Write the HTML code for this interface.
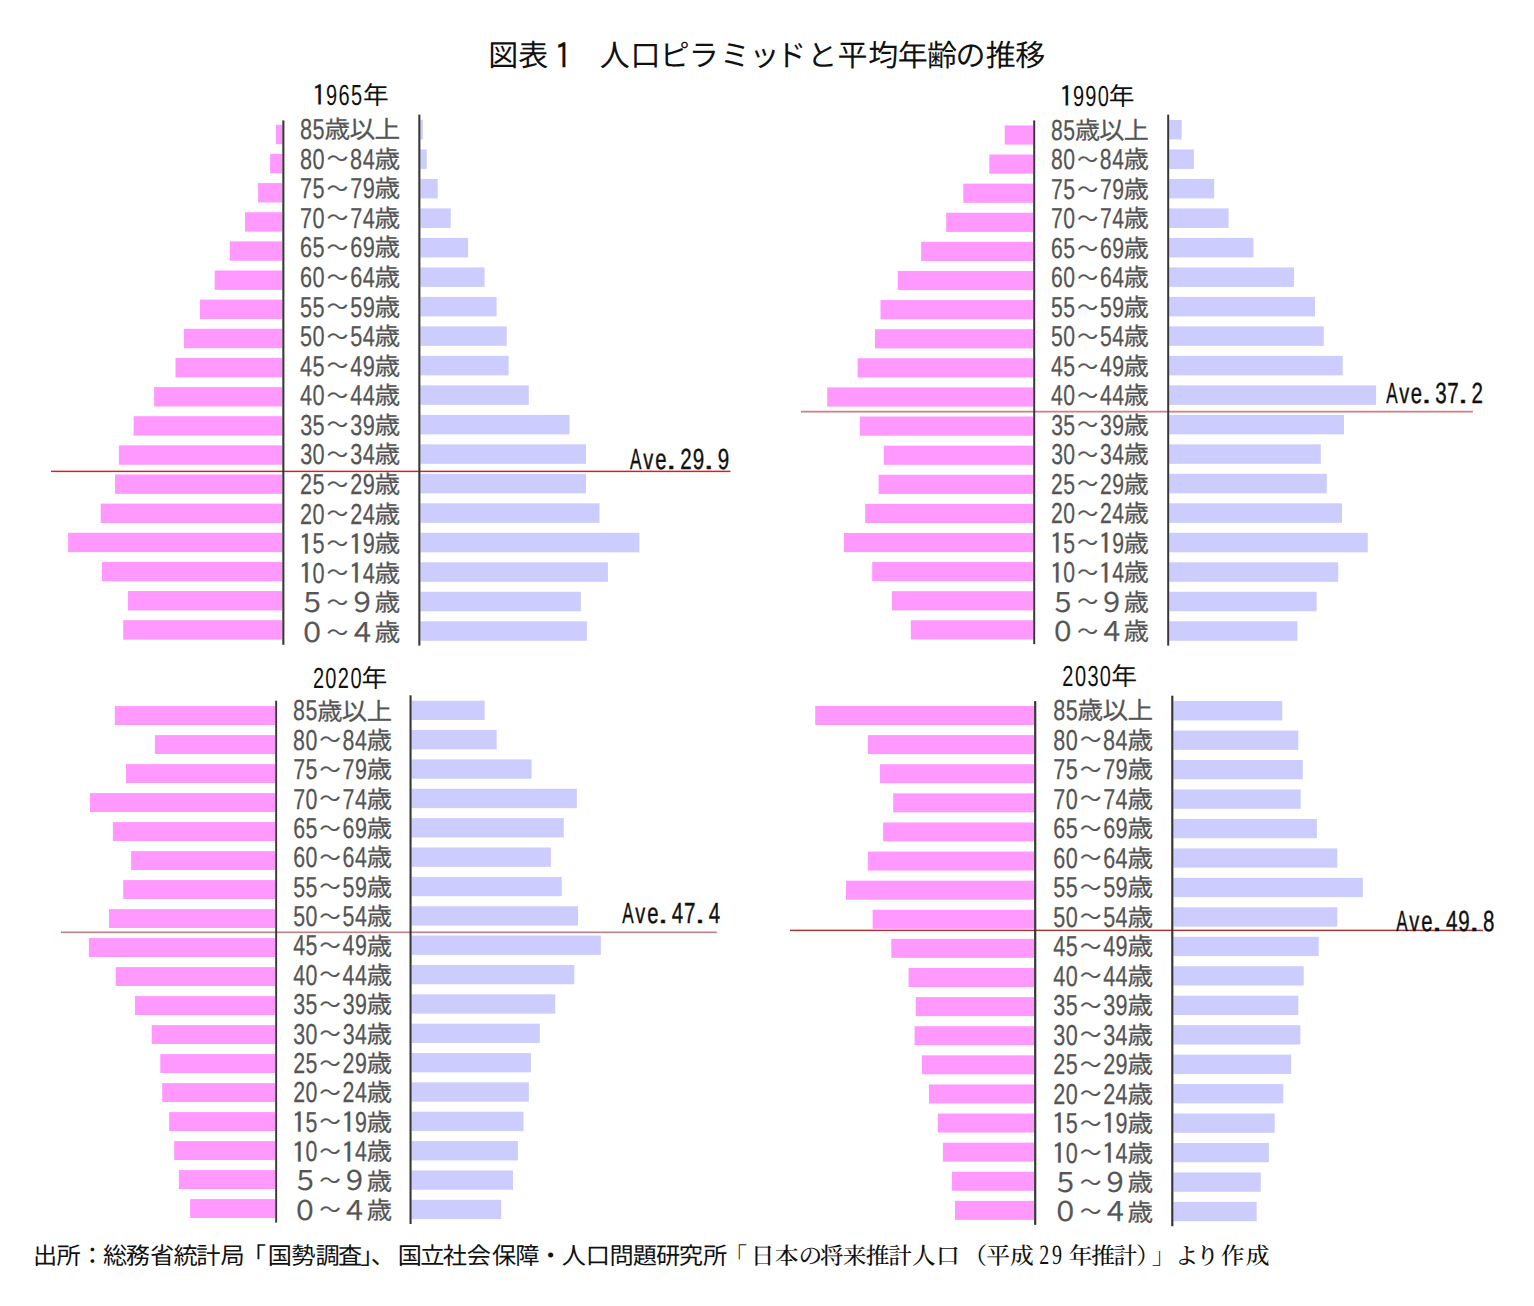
<!DOCTYPE html>
<html lang="ja"><head><meta charset="utf-8"><title>図表１ 人口ピラミッドと平均年齢の推移</title>
<style>
html,body{margin:0;padding:0;background:#fff;}
svg{display:block;text-rendering:geometricPrecision;}
text{font-family:"Liberation Sans","Noto Sans CJK JP",sans-serif;}
.lab{fill:#555555;stroke:#555555;stroke-width:0.25px;}
.yr,.ave,.ttl,.src{fill:#111111;}
.ave{stroke:#111111;stroke-width:0.4px;}
.ipa{font-family:"IPAGothic","Noto Sans CJK JP",sans-serif;}
.ser{font-family:"Liberation Serif","Noto Serif CJK JP","Noto Serif CJK SC",serif;font-weight:500;}
</style></head>
<body>
<svg width="1534" height="1306" viewBox="0 0 1534 1306">
<rect width="1534" height="1306" fill="#fff"/>
<text class="ttl"><tspan x="488.35" y="66" font-size="30">図</tspan><tspan x="518.35" y="66" font-size="30">表</tspan><tspan x="547.18" y="68.63" font-size="35.6" textLength="32.04" lengthAdjust="spacingAndGlyphs" class="ipa">１</tspan><tspan>　</tspan><tspan x="599.85" y="66" font-size="30">人</tspan><tspan x="630.45" y="66" font-size="30">口</tspan><tspan x="659.85" y="66" font-size="30">ピ</tspan><tspan x="688.75" y="66" font-size="30">ラ</tspan><tspan x="719.95" y="66" font-size="30">ミ</tspan><tspan x="749.4" y="66" font-size="30">ッ</tspan><tspan x="776.35" y="66" font-size="30">ド</tspan><tspan x="807.2" y="66" font-size="30">と</tspan><tspan x="837.6" y="66" font-size="30">平</tspan><tspan x="868.2" y="66" font-size="30">均</tspan><tspan x="897.7" y="66" font-size="30">年</tspan><tspan x="926.95" y="66" font-size="30">齢</tspan><tspan x="955.4" y="66" font-size="30">の</tspan><tspan x="985.85" y="66" font-size="30">推</tspan><tspan x="1015.15" y="66" font-size="30">移</tspan></text>
<g fill="#ff99ff"><rect x="275.9" y="124.8" width="6.4" height="19.4"/><rect x="270.1" y="153.94" width="12.2" height="19.4"/><rect x="258.1" y="183.08" width="24.2" height="19.4"/><rect x="245" y="212.22" width="37.3" height="19.4"/><rect x="229.8" y="241.36" width="52.5" height="19.4"/><rect x="214.7" y="270.5" width="67.6" height="19.4"/><rect x="200" y="299.64" width="82.3" height="19.4"/><rect x="183.9" y="328.78" width="98.4" height="19.4"/><rect x="175.5" y="357.92" width="106.8" height="19.4"/><rect x="154.1" y="387.06" width="128.2" height="19.4"/><rect x="133.7" y="416.2" width="148.6" height="19.4"/><rect x="118.9" y="445.34" width="163.4" height="19.4"/><rect x="115" y="474.48" width="167.3" height="19.4"/><rect x="100.7" y="503.62" width="181.6" height="19.4"/><rect x="68.1" y="532.76" width="214.2" height="19.4"/><rect x="102" y="561.9" width="180.3" height="19.4"/><rect x="127.9" y="591.04" width="154.4" height="19.4"/><rect x="123.2" y="620.18" width="159.1" height="19.4"/></g>
<g fill="#ccccff"><rect x="420.4" y="119.95" width="2.4" height="19.5"/><rect x="420.4" y="149.44" width="6.3" height="19.5"/><rect x="420.4" y="178.93" width="17.3" height="19.5"/><rect x="420.4" y="208.42" width="30.3" height="19.5"/><rect x="420.4" y="237.91" width="47.7" height="19.5"/><rect x="420.4" y="267.4" width="64.2" height="19.5"/><rect x="420.4" y="296.89" width="76.2" height="19.5"/><rect x="420.4" y="326.38" width="86.3" height="19.5"/><rect x="420.4" y="355.87" width="88.2" height="19.5"/><rect x="420.4" y="385.36" width="108.4" height="19.5"/><rect x="420.4" y="414.85" width="149.1" height="19.5"/><rect x="420.4" y="444.34" width="165.6" height="19.5"/><rect x="420.4" y="473.83" width="165.6" height="19.5"/><rect x="420.4" y="503.32" width="179.1" height="19.5"/><rect x="420.4" y="532.81" width="219" height="19.5"/><rect x="420.4" y="562.3" width="187.5" height="19.5"/><rect x="420.4" y="591.79" width="160.5" height="19.5"/><rect x="420.4" y="621.28" width="166.5" height="19.5"/></g>
<rect x="51" y="470" width="679.4" height="1" fill="#f0b0b0"/><rect x="51" y="471" width="679.4" height="1" fill="#a53434"/><rect x="51" y="472" width="679.4" height="1" fill="#fbe4e4"/>
<g fill="#383838"><rect x="282.3" y="120.4" width="2.1" height="524.4"/><rect x="418.3" y="114.6" width="2.1" height="531"/></g>
<text class="lab"><tspan x="299.93" y="139.05" font-size="28.9" textLength="12.06" lengthAdjust="spacingAndGlyphs">8</tspan><tspan x="312.56" y="139.05" font-size="28.9" textLength="12.06" lengthAdjust="spacingAndGlyphs">5</tspan><tspan x="324.53" y="138.1" font-size="24.35" textLength="25.69" lengthAdjust="spacingAndGlyphs">歳</tspan><tspan x="349.45" y="138.1" font-size="24.35" textLength="25.69" lengthAdjust="spacingAndGlyphs">以</tspan><tspan x="374.63" y="138.1" font-size="24.35" textLength="25.69" lengthAdjust="spacingAndGlyphs">上</tspan></text>
<text class="lab"><tspan x="299.93" y="168.63" font-size="28.9" textLength="12.06" lengthAdjust="spacingAndGlyphs">8</tspan><tspan x="312.56" y="168.63" font-size="28.9" textLength="12.06" lengthAdjust="spacingAndGlyphs">0</tspan><tspan x="326.82" y="166.27" font-size="20.5" textLength="21.32" lengthAdjust="spacingAndGlyphs">～</tspan><tspan x="350.03" y="168.63" font-size="28.9" textLength="12.06" lengthAdjust="spacingAndGlyphs">8</tspan><tspan x="362.66" y="168.63" font-size="28.9" textLength="12.06" lengthAdjust="spacingAndGlyphs">4</tspan><tspan x="374.63" y="167.68" font-size="24.35" textLength="25.69" lengthAdjust="spacingAndGlyphs">歳</tspan></text>
<text class="lab"><tspan x="300.03" y="198.21" font-size="28.9" textLength="12.06" lengthAdjust="spacingAndGlyphs">7</tspan><tspan x="312.56" y="198.21" font-size="28.9" textLength="12.06" lengthAdjust="spacingAndGlyphs">5</tspan><tspan x="326.82" y="195.85" font-size="20.5" textLength="21.32" lengthAdjust="spacingAndGlyphs">～</tspan><tspan x="350.13" y="198.21" font-size="28.9" textLength="12.06" lengthAdjust="spacingAndGlyphs">7</tspan><tspan x="362.66" y="198.21" font-size="28.9" textLength="12.06" lengthAdjust="spacingAndGlyphs">9</tspan><tspan x="374.63" y="197.26" font-size="24.35" textLength="25.69" lengthAdjust="spacingAndGlyphs">歳</tspan></text>
<text class="lab"><tspan x="300.03" y="227.79" font-size="28.9" textLength="12.06" lengthAdjust="spacingAndGlyphs">7</tspan><tspan x="312.56" y="227.79" font-size="28.9" textLength="12.06" lengthAdjust="spacingAndGlyphs">0</tspan><tspan x="326.82" y="225.43" font-size="20.5" textLength="21.32" lengthAdjust="spacingAndGlyphs">～</tspan><tspan x="350.13" y="227.79" font-size="28.9" textLength="12.06" lengthAdjust="spacingAndGlyphs">7</tspan><tspan x="362.66" y="227.79" font-size="28.9" textLength="12.06" lengthAdjust="spacingAndGlyphs">4</tspan><tspan x="374.63" y="226.84" font-size="24.35" textLength="25.69" lengthAdjust="spacingAndGlyphs">歳</tspan></text>
<text class="lab"><tspan x="300.03" y="257.37" font-size="28.9" textLength="12.06" lengthAdjust="spacingAndGlyphs">6</tspan><tspan x="312.56" y="257.37" font-size="28.9" textLength="12.06" lengthAdjust="spacingAndGlyphs">5</tspan><tspan x="326.82" y="255.01" font-size="20.5" textLength="21.32" lengthAdjust="spacingAndGlyphs">～</tspan><tspan x="350.13" y="257.37" font-size="28.9" textLength="12.06" lengthAdjust="spacingAndGlyphs">6</tspan><tspan x="362.66" y="257.37" font-size="28.9" textLength="12.06" lengthAdjust="spacingAndGlyphs">9</tspan><tspan x="374.63" y="256.42" font-size="24.35" textLength="25.69" lengthAdjust="spacingAndGlyphs">歳</tspan></text>
<text class="lab"><tspan x="300.03" y="286.95" font-size="28.9" textLength="12.06" lengthAdjust="spacingAndGlyphs">6</tspan><tspan x="312.56" y="286.95" font-size="28.9" textLength="12.06" lengthAdjust="spacingAndGlyphs">0</tspan><tspan x="326.82" y="284.59" font-size="20.5" textLength="21.32" lengthAdjust="spacingAndGlyphs">～</tspan><tspan x="350.13" y="286.95" font-size="28.9" textLength="12.06" lengthAdjust="spacingAndGlyphs">6</tspan><tspan x="362.66" y="286.95" font-size="28.9" textLength="12.06" lengthAdjust="spacingAndGlyphs">4</tspan><tspan x="374.63" y="286" font-size="24.35" textLength="25.69" lengthAdjust="spacingAndGlyphs">歳</tspan></text>
<text class="lab"><tspan x="300.03" y="316.53" font-size="28.9" textLength="12.06" lengthAdjust="spacingAndGlyphs">5</tspan><tspan x="312.56" y="316.53" font-size="28.9" textLength="12.06" lengthAdjust="spacingAndGlyphs">5</tspan><tspan x="326.82" y="314.17" font-size="20.5" textLength="21.32" lengthAdjust="spacingAndGlyphs">～</tspan><tspan x="350.13" y="316.53" font-size="28.9" textLength="12.06" lengthAdjust="spacingAndGlyphs">5</tspan><tspan x="362.66" y="316.53" font-size="28.9" textLength="12.06" lengthAdjust="spacingAndGlyphs">9</tspan><tspan x="374.63" y="315.58" font-size="24.35" textLength="25.69" lengthAdjust="spacingAndGlyphs">歳</tspan></text>
<text class="lab"><tspan x="300.03" y="346.11" font-size="28.9" textLength="12.06" lengthAdjust="spacingAndGlyphs">5</tspan><tspan x="312.56" y="346.11" font-size="28.9" textLength="12.06" lengthAdjust="spacingAndGlyphs">0</tspan><tspan x="326.82" y="343.75" font-size="20.5" textLength="21.32" lengthAdjust="spacingAndGlyphs">～</tspan><tspan x="350.13" y="346.11" font-size="28.9" textLength="12.06" lengthAdjust="spacingAndGlyphs">5</tspan><tspan x="362.66" y="346.11" font-size="28.9" textLength="12.06" lengthAdjust="spacingAndGlyphs">4</tspan><tspan x="374.63" y="345.16" font-size="24.35" textLength="25.69" lengthAdjust="spacingAndGlyphs">歳</tspan></text>
<text class="lab"><tspan x="300.03" y="375.69" font-size="28.9" textLength="12.06" lengthAdjust="spacingAndGlyphs">4</tspan><tspan x="312.56" y="375.69" font-size="28.9" textLength="12.06" lengthAdjust="spacingAndGlyphs">5</tspan><tspan x="326.82" y="373.33" font-size="20.5" textLength="21.32" lengthAdjust="spacingAndGlyphs">～</tspan><tspan x="350.13" y="375.69" font-size="28.9" textLength="12.06" lengthAdjust="spacingAndGlyphs">4</tspan><tspan x="362.66" y="375.69" font-size="28.9" textLength="12.06" lengthAdjust="spacingAndGlyphs">9</tspan><tspan x="374.63" y="374.74" font-size="24.35" textLength="25.69" lengthAdjust="spacingAndGlyphs">歳</tspan></text>
<text class="lab"><tspan x="300.03" y="405.27" font-size="28.9" textLength="12.06" lengthAdjust="spacingAndGlyphs">4</tspan><tspan x="312.56" y="405.27" font-size="28.9" textLength="12.06" lengthAdjust="spacingAndGlyphs">0</tspan><tspan x="326.82" y="402.91" font-size="20.5" textLength="21.32" lengthAdjust="spacingAndGlyphs">～</tspan><tspan x="350.13" y="405.27" font-size="28.9" textLength="12.06" lengthAdjust="spacingAndGlyphs">4</tspan><tspan x="362.66" y="405.27" font-size="28.9" textLength="12.06" lengthAdjust="spacingAndGlyphs">4</tspan><tspan x="374.63" y="404.32" font-size="24.35" textLength="25.69" lengthAdjust="spacingAndGlyphs">歳</tspan></text>
<text class="lab"><tspan x="300.14" y="434.85" font-size="28.9" textLength="12.06" lengthAdjust="spacingAndGlyphs">3</tspan><tspan x="312.56" y="434.85" font-size="28.9" textLength="12.06" lengthAdjust="spacingAndGlyphs">5</tspan><tspan x="326.82" y="432.49" font-size="20.5" textLength="21.32" lengthAdjust="spacingAndGlyphs">～</tspan><tspan x="350.24" y="434.85" font-size="28.9" textLength="12.06" lengthAdjust="spacingAndGlyphs">3</tspan><tspan x="362.66" y="434.85" font-size="28.9" textLength="12.06" lengthAdjust="spacingAndGlyphs">9</tspan><tspan x="374.63" y="433.9" font-size="24.35" textLength="25.69" lengthAdjust="spacingAndGlyphs">歳</tspan></text>
<text class="lab"><tspan x="300.14" y="464.43" font-size="28.9" textLength="12.06" lengthAdjust="spacingAndGlyphs">3</tspan><tspan x="312.56" y="464.43" font-size="28.9" textLength="12.06" lengthAdjust="spacingAndGlyphs">0</tspan><tspan x="326.82" y="462.07" font-size="20.5" textLength="21.32" lengthAdjust="spacingAndGlyphs">～</tspan><tspan x="350.24" y="464.43" font-size="28.9" textLength="12.06" lengthAdjust="spacingAndGlyphs">3</tspan><tspan x="362.66" y="464.43" font-size="28.9" textLength="12.06" lengthAdjust="spacingAndGlyphs">4</tspan><tspan x="374.63" y="463.48" font-size="24.35" textLength="25.69" lengthAdjust="spacingAndGlyphs">歳</tspan></text>
<text class="lab"><tspan x="300.03" y="494.01" font-size="28.9" textLength="12.06" lengthAdjust="spacingAndGlyphs">2</tspan><tspan x="312.56" y="494.01" font-size="28.9" textLength="12.06" lengthAdjust="spacingAndGlyphs">5</tspan><tspan x="326.82" y="491.65" font-size="20.5" textLength="21.32" lengthAdjust="spacingAndGlyphs">～</tspan><tspan x="350.13" y="494.01" font-size="28.9" textLength="12.06" lengthAdjust="spacingAndGlyphs">2</tspan><tspan x="362.66" y="494.01" font-size="28.9" textLength="12.06" lengthAdjust="spacingAndGlyphs">9</tspan><tspan x="374.63" y="493.06" font-size="24.35" textLength="25.69" lengthAdjust="spacingAndGlyphs">歳</tspan></text>
<text class="lab"><tspan x="300.03" y="523.59" font-size="28.9" textLength="12.06" lengthAdjust="spacingAndGlyphs">2</tspan><tspan x="312.56" y="523.59" font-size="28.9" textLength="12.06" lengthAdjust="spacingAndGlyphs">0</tspan><tspan x="326.82" y="521.23" font-size="20.5" textLength="21.32" lengthAdjust="spacingAndGlyphs">～</tspan><tspan x="350.13" y="523.59" font-size="28.9" textLength="12.06" lengthAdjust="spacingAndGlyphs">2</tspan><tspan x="362.66" y="523.59" font-size="28.9" textLength="12.06" lengthAdjust="spacingAndGlyphs">4</tspan><tspan x="374.63" y="522.64" font-size="24.35" textLength="25.69" lengthAdjust="spacingAndGlyphs">歳</tspan></text>
<text class="lab"><tspan x="298.43" y="554.59" font-size="28.5" textLength="14.96" lengthAdjust="spacingAndGlyphs" class="ipa">1</tspan><tspan x="312.56" y="553.17" font-size="28.9" textLength="12.06" lengthAdjust="spacingAndGlyphs">5</tspan><tspan x="326.82" y="550.81" font-size="20.5" textLength="21.32" lengthAdjust="spacingAndGlyphs">～</tspan><tspan x="348.53" y="554.59" font-size="28.5" textLength="14.96" lengthAdjust="spacingAndGlyphs" class="ipa">1</tspan><tspan x="362.66" y="553.17" font-size="28.9" textLength="12.06" lengthAdjust="spacingAndGlyphs">9</tspan><tspan x="374.63" y="552.22" font-size="24.35" textLength="25.69" lengthAdjust="spacingAndGlyphs">歳</tspan></text>
<text class="lab"><tspan x="298.43" y="584.17" font-size="28.5" textLength="14.96" lengthAdjust="spacingAndGlyphs" class="ipa">1</tspan><tspan x="312.56" y="582.75" font-size="28.9" textLength="12.06" lengthAdjust="spacingAndGlyphs">0</tspan><tspan x="326.82" y="580.39" font-size="20.5" textLength="21.32" lengthAdjust="spacingAndGlyphs">～</tspan><tspan x="348.53" y="584.17" font-size="28.5" textLength="14.96" lengthAdjust="spacingAndGlyphs" class="ipa">1</tspan><tspan x="362.66" y="582.75" font-size="28.9" textLength="12.06" lengthAdjust="spacingAndGlyphs">4</tspan><tspan x="374.63" y="581.8" font-size="24.35" textLength="25.69" lengthAdjust="spacingAndGlyphs">歳</tspan></text>
<text class="lab"><tspan x="298.83" y="612.18" font-size="27.2">５</tspan><tspan x="326.82" y="609.97" font-size="20.5" textLength="21.32" lengthAdjust="spacingAndGlyphs">～</tspan><tspan x="348.52" y="612.18" font-size="27.2">９</tspan><tspan x="374.63" y="611.38" font-size="24.35" textLength="25.69" lengthAdjust="spacingAndGlyphs">歳</tspan></text>
<text class="lab"><tspan x="298.42" y="641.76" font-size="27.2">０</tspan><tspan x="326.82" y="639.55" font-size="20.5" textLength="21.32" lengthAdjust="spacingAndGlyphs">～</tspan><tspan x="348.39" y="641.76" font-size="27.2">４</tspan><tspan x="374.63" y="640.96" font-size="24.35" textLength="25.69" lengthAdjust="spacingAndGlyphs">歳</tspan></text>
<text class="yr"><tspan x="311.5" y="106.35" font-size="29" textLength="15.23" lengthAdjust="spacingAndGlyphs" class="ipa">1</tspan><tspan x="326.08" y="104.6" font-size="29" textLength="11.13" lengthAdjust="spacingAndGlyphs">9</tspan><tspan x="338.38" y="104.6" font-size="29" textLength="11.13" lengthAdjust="spacingAndGlyphs">6</tspan><tspan x="350.93" y="104.6" font-size="29" textLength="11.13" lengthAdjust="spacingAndGlyphs">5</tspan><tspan x="363.1" y="104" font-size="24.8" textLength="25.79" lengthAdjust="spacingAndGlyphs">年</tspan></text>
<text class="ave"><tspan x="630.09" y="468.5" font-size="29" textLength="11.41" lengthAdjust="spacingAndGlyphs">A</tspan><tspan x="643.32" y="468.5" font-size="29" textLength="10" lengthAdjust="spacingAndGlyphs">v</tspan><tspan x="655.3" y="468.5" font-size="29" textLength="11.29" lengthAdjust="spacingAndGlyphs">e</tspan><tspan x="666.02" y="468.5" font-size="29" textLength="10.48" lengthAdjust="spacingAndGlyphs">.</tspan><tspan x="680.16" y="468.5" font-size="29" textLength="11.45" lengthAdjust="spacingAndGlyphs">2</tspan><tspan x="692.68" y="468.5" font-size="29" textLength="11.45" lengthAdjust="spacingAndGlyphs">9</tspan><tspan x="703.59" y="468.5" font-size="29" textLength="10.48" lengthAdjust="spacingAndGlyphs">.</tspan><tspan x="717.72" y="468.5" font-size="29" textLength="11.45" lengthAdjust="spacingAndGlyphs">9</tspan></text>
<g fill="#ff99ff"><rect x="1004.7" y="125.4" width="28.5" height="19.2"/><rect x="989.3" y="154.51" width="43.9" height="19.2"/><rect x="963.3" y="183.62" width="69.9" height="19.2"/><rect x="946.2" y="212.73" width="87" height="19.2"/><rect x="921.1" y="241.84" width="112.1" height="19.2"/><rect x="897.7" y="270.95" width="135.5" height="19.2"/><rect x="880.5" y="300.06" width="152.7" height="19.2"/><rect x="875" y="329.17" width="158.2" height="19.2"/><rect x="857.6" y="358.28" width="175.6" height="19.2"/><rect x="827.2" y="387.39" width="206" height="19.2"/><rect x="859.8" y="416.5" width="173.4" height="19.2"/><rect x="883.8" y="445.61" width="149.4" height="19.2"/><rect x="878.6" y="474.72" width="154.6" height="19.2"/><rect x="865.1" y="503.83" width="168.1" height="19.2"/><rect x="843.9" y="532.94" width="189.3" height="19.2"/><rect x="872.2" y="562.05" width="161" height="19.2"/><rect x="891.9" y="591.16" width="141.3" height="19.2"/><rect x="910.8" y="620.27" width="122.4" height="19.2"/></g>
<g fill="#ccccff"><rect x="1169.2" y="119.95" width="12.5" height="19.5"/><rect x="1169.2" y="149.44" width="24.7" height="19.5"/><rect x="1169.2" y="178.93" width="45" height="19.5"/><rect x="1169.2" y="208.42" width="59.4" height="19.5"/><rect x="1169.2" y="237.91" width="84.3" height="19.5"/><rect x="1169.2" y="267.4" width="124.8" height="19.5"/><rect x="1169.2" y="296.89" width="145.8" height="19.5"/><rect x="1169.2" y="326.38" width="154.6" height="19.5"/><rect x="1169.2" y="355.87" width="173.5" height="19.5"/><rect x="1169.2" y="385.36" width="206.9" height="19.5"/><rect x="1169.2" y="414.85" width="174.8" height="19.5"/><rect x="1169.2" y="444.34" width="151.6" height="19.5"/><rect x="1169.2" y="473.83" width="157.6" height="19.5"/><rect x="1169.2" y="503.32" width="172.8" height="19.5"/><rect x="1169.2" y="532.81" width="198.6" height="19.5"/><rect x="1169.2" y="562.3" width="169" height="19.5"/><rect x="1169.2" y="591.79" width="147.5" height="19.5"/><rect x="1169.2" y="621.28" width="128.2" height="19.5"/></g>
<rect x="801" y="410" width="671.9" height="1" fill="#f6e0e0"/><rect x="801" y="411" width="671.9" height="1" fill="#c48488"/><rect x="801" y="412" width="671.9" height="1" fill="#e2bcbc"/>
<g fill="#383838"><rect x="1033.2" y="120.4" width="2" height="523.7"/><rect x="1167.2" y="114.6" width="2" height="531"/></g>
<text class="lab"><tspan x="1050.92" y="139.95" font-size="28.9" textLength="11.77" lengthAdjust="spacingAndGlyphs">8</tspan><tspan x="1063.25" y="139.95" font-size="28.9" textLength="11.77" lengthAdjust="spacingAndGlyphs">5</tspan><tspan x="1074.94" y="139" font-size="24.35" textLength="25.07" lengthAdjust="spacingAndGlyphs">歳</tspan><tspan x="1099.26" y="139" font-size="24.35" textLength="25.07" lengthAdjust="spacingAndGlyphs">以</tspan><tspan x="1123.84" y="139" font-size="24.35" textLength="25.07" lengthAdjust="spacingAndGlyphs">上</tspan></text>
<text class="lab"><tspan x="1050.92" y="169.44" font-size="28.9" textLength="11.77" lengthAdjust="spacingAndGlyphs">8</tspan><tspan x="1063.25" y="169.44" font-size="28.9" textLength="11.77" lengthAdjust="spacingAndGlyphs">0</tspan><tspan x="1077.17" y="167.08" font-size="20.5" textLength="20.81" lengthAdjust="spacingAndGlyphs">～</tspan><tspan x="1099.82" y="169.44" font-size="28.9" textLength="11.77" lengthAdjust="spacingAndGlyphs">8</tspan><tspan x="1112.15" y="169.44" font-size="28.9" textLength="11.77" lengthAdjust="spacingAndGlyphs">4</tspan><tspan x="1123.84" y="168.49" font-size="24.35" textLength="25.07" lengthAdjust="spacingAndGlyphs">歳</tspan></text>
<text class="lab"><tspan x="1051.03" y="198.93" font-size="28.9" textLength="11.77" lengthAdjust="spacingAndGlyphs">7</tspan><tspan x="1063.25" y="198.93" font-size="28.9" textLength="11.77" lengthAdjust="spacingAndGlyphs">5</tspan><tspan x="1077.17" y="196.57" font-size="20.5" textLength="20.81" lengthAdjust="spacingAndGlyphs">～</tspan><tspan x="1099.93" y="198.93" font-size="28.9" textLength="11.77" lengthAdjust="spacingAndGlyphs">7</tspan><tspan x="1112.15" y="198.93" font-size="28.9" textLength="11.77" lengthAdjust="spacingAndGlyphs">9</tspan><tspan x="1123.84" y="197.98" font-size="24.35" textLength="25.07" lengthAdjust="spacingAndGlyphs">歳</tspan></text>
<text class="lab"><tspan x="1051.03" y="228.42" font-size="28.9" textLength="11.77" lengthAdjust="spacingAndGlyphs">7</tspan><tspan x="1063.25" y="228.42" font-size="28.9" textLength="11.77" lengthAdjust="spacingAndGlyphs">0</tspan><tspan x="1077.17" y="226.06" font-size="20.5" textLength="20.81" lengthAdjust="spacingAndGlyphs">～</tspan><tspan x="1099.93" y="228.42" font-size="28.9" textLength="11.77" lengthAdjust="spacingAndGlyphs">7</tspan><tspan x="1112.15" y="228.42" font-size="28.9" textLength="11.77" lengthAdjust="spacingAndGlyphs">4</tspan><tspan x="1123.84" y="227.47" font-size="24.35" textLength="25.07" lengthAdjust="spacingAndGlyphs">歳</tspan></text>
<text class="lab"><tspan x="1051.03" y="257.91" font-size="28.9" textLength="11.77" lengthAdjust="spacingAndGlyphs">6</tspan><tspan x="1063.25" y="257.91" font-size="28.9" textLength="11.77" lengthAdjust="spacingAndGlyphs">5</tspan><tspan x="1077.17" y="255.55" font-size="20.5" textLength="20.81" lengthAdjust="spacingAndGlyphs">～</tspan><tspan x="1099.93" y="257.91" font-size="28.9" textLength="11.77" lengthAdjust="spacingAndGlyphs">6</tspan><tspan x="1112.15" y="257.91" font-size="28.9" textLength="11.77" lengthAdjust="spacingAndGlyphs">9</tspan><tspan x="1123.84" y="256.96" font-size="24.35" textLength="25.07" lengthAdjust="spacingAndGlyphs">歳</tspan></text>
<text class="lab"><tspan x="1051.03" y="287.4" font-size="28.9" textLength="11.77" lengthAdjust="spacingAndGlyphs">6</tspan><tspan x="1063.25" y="287.4" font-size="28.9" textLength="11.77" lengthAdjust="spacingAndGlyphs">0</tspan><tspan x="1077.17" y="285.04" font-size="20.5" textLength="20.81" lengthAdjust="spacingAndGlyphs">～</tspan><tspan x="1099.93" y="287.4" font-size="28.9" textLength="11.77" lengthAdjust="spacingAndGlyphs">6</tspan><tspan x="1112.15" y="287.4" font-size="28.9" textLength="11.77" lengthAdjust="spacingAndGlyphs">4</tspan><tspan x="1123.84" y="286.45" font-size="24.35" textLength="25.07" lengthAdjust="spacingAndGlyphs">歳</tspan></text>
<text class="lab"><tspan x="1051.03" y="316.89" font-size="28.9" textLength="11.77" lengthAdjust="spacingAndGlyphs">5</tspan><tspan x="1063.25" y="316.89" font-size="28.9" textLength="11.77" lengthAdjust="spacingAndGlyphs">5</tspan><tspan x="1077.17" y="314.53" font-size="20.5" textLength="20.81" lengthAdjust="spacingAndGlyphs">～</tspan><tspan x="1099.93" y="316.89" font-size="28.9" textLength="11.77" lengthAdjust="spacingAndGlyphs">5</tspan><tspan x="1112.15" y="316.89" font-size="28.9" textLength="11.77" lengthAdjust="spacingAndGlyphs">9</tspan><tspan x="1123.84" y="315.94" font-size="24.35" textLength="25.07" lengthAdjust="spacingAndGlyphs">歳</tspan></text>
<text class="lab"><tspan x="1051.03" y="346.38" font-size="28.9" textLength="11.77" lengthAdjust="spacingAndGlyphs">5</tspan><tspan x="1063.25" y="346.38" font-size="28.9" textLength="11.77" lengthAdjust="spacingAndGlyphs">0</tspan><tspan x="1077.17" y="344.02" font-size="20.5" textLength="20.81" lengthAdjust="spacingAndGlyphs">～</tspan><tspan x="1099.93" y="346.38" font-size="28.9" textLength="11.77" lengthAdjust="spacingAndGlyphs">5</tspan><tspan x="1112.15" y="346.38" font-size="28.9" textLength="11.77" lengthAdjust="spacingAndGlyphs">4</tspan><tspan x="1123.84" y="345.43" font-size="24.35" textLength="25.07" lengthAdjust="spacingAndGlyphs">歳</tspan></text>
<text class="lab"><tspan x="1051.03" y="375.87" font-size="28.9" textLength="11.77" lengthAdjust="spacingAndGlyphs">4</tspan><tspan x="1063.25" y="375.87" font-size="28.9" textLength="11.77" lengthAdjust="spacingAndGlyphs">5</tspan><tspan x="1077.17" y="373.51" font-size="20.5" textLength="20.81" lengthAdjust="spacingAndGlyphs">～</tspan><tspan x="1099.93" y="375.87" font-size="28.9" textLength="11.77" lengthAdjust="spacingAndGlyphs">4</tspan><tspan x="1112.15" y="375.87" font-size="28.9" textLength="11.77" lengthAdjust="spacingAndGlyphs">9</tspan><tspan x="1123.84" y="374.92" font-size="24.35" textLength="25.07" lengthAdjust="spacingAndGlyphs">歳</tspan></text>
<text class="lab"><tspan x="1051.03" y="405.36" font-size="28.9" textLength="11.77" lengthAdjust="spacingAndGlyphs">4</tspan><tspan x="1063.25" y="405.36" font-size="28.9" textLength="11.77" lengthAdjust="spacingAndGlyphs">0</tspan><tspan x="1077.17" y="403" font-size="20.5" textLength="20.81" lengthAdjust="spacingAndGlyphs">～</tspan><tspan x="1099.93" y="405.36" font-size="28.9" textLength="11.77" lengthAdjust="spacingAndGlyphs">4</tspan><tspan x="1112.15" y="405.36" font-size="28.9" textLength="11.77" lengthAdjust="spacingAndGlyphs">4</tspan><tspan x="1123.84" y="404.41" font-size="24.35" textLength="25.07" lengthAdjust="spacingAndGlyphs">歳</tspan></text>
<text class="lab"><tspan x="1051.13" y="434.85" font-size="28.9" textLength="11.77" lengthAdjust="spacingAndGlyphs">3</tspan><tspan x="1063.25" y="434.85" font-size="28.9" textLength="11.77" lengthAdjust="spacingAndGlyphs">5</tspan><tspan x="1077.17" y="432.49" font-size="20.5" textLength="20.81" lengthAdjust="spacingAndGlyphs">～</tspan><tspan x="1100.03" y="434.85" font-size="28.9" textLength="11.77" lengthAdjust="spacingAndGlyphs">3</tspan><tspan x="1112.15" y="434.85" font-size="28.9" textLength="11.77" lengthAdjust="spacingAndGlyphs">9</tspan><tspan x="1123.84" y="433.9" font-size="24.35" textLength="25.07" lengthAdjust="spacingAndGlyphs">歳</tspan></text>
<text class="lab"><tspan x="1051.13" y="464.34" font-size="28.9" textLength="11.77" lengthAdjust="spacingAndGlyphs">3</tspan><tspan x="1063.25" y="464.34" font-size="28.9" textLength="11.77" lengthAdjust="spacingAndGlyphs">0</tspan><tspan x="1077.17" y="461.98" font-size="20.5" textLength="20.81" lengthAdjust="spacingAndGlyphs">～</tspan><tspan x="1100.03" y="464.34" font-size="28.9" textLength="11.77" lengthAdjust="spacingAndGlyphs">3</tspan><tspan x="1112.15" y="464.34" font-size="28.9" textLength="11.77" lengthAdjust="spacingAndGlyphs">4</tspan><tspan x="1123.84" y="463.39" font-size="24.35" textLength="25.07" lengthAdjust="spacingAndGlyphs">歳</tspan></text>
<text class="lab"><tspan x="1051.03" y="493.83" font-size="28.9" textLength="11.77" lengthAdjust="spacingAndGlyphs">2</tspan><tspan x="1063.25" y="493.83" font-size="28.9" textLength="11.77" lengthAdjust="spacingAndGlyphs">5</tspan><tspan x="1077.17" y="491.47" font-size="20.5" textLength="20.81" lengthAdjust="spacingAndGlyphs">～</tspan><tspan x="1099.93" y="493.83" font-size="28.9" textLength="11.77" lengthAdjust="spacingAndGlyphs">2</tspan><tspan x="1112.15" y="493.83" font-size="28.9" textLength="11.77" lengthAdjust="spacingAndGlyphs">9</tspan><tspan x="1123.84" y="492.88" font-size="24.35" textLength="25.07" lengthAdjust="spacingAndGlyphs">歳</tspan></text>
<text class="lab"><tspan x="1051.03" y="523.32" font-size="28.9" textLength="11.77" lengthAdjust="spacingAndGlyphs">2</tspan><tspan x="1063.25" y="523.32" font-size="28.9" textLength="11.77" lengthAdjust="spacingAndGlyphs">0</tspan><tspan x="1077.17" y="520.96" font-size="20.5" textLength="20.81" lengthAdjust="spacingAndGlyphs">～</tspan><tspan x="1099.93" y="523.32" font-size="28.9" textLength="11.77" lengthAdjust="spacingAndGlyphs">2</tspan><tspan x="1112.15" y="523.32" font-size="28.9" textLength="11.77" lengthAdjust="spacingAndGlyphs">4</tspan><tspan x="1123.84" y="522.37" font-size="24.35" textLength="25.07" lengthAdjust="spacingAndGlyphs">歳</tspan></text>
<text class="lab"><tspan x="1049.46" y="554.23" font-size="28.5" textLength="14.6" lengthAdjust="spacingAndGlyphs" class="ipa">1</tspan><tspan x="1063.25" y="552.81" font-size="28.9" textLength="11.77" lengthAdjust="spacingAndGlyphs">5</tspan><tspan x="1077.17" y="550.45" font-size="20.5" textLength="20.81" lengthAdjust="spacingAndGlyphs">～</tspan><tspan x="1098.36" y="554.23" font-size="28.5" textLength="14.6" lengthAdjust="spacingAndGlyphs" class="ipa">1</tspan><tspan x="1112.15" y="552.81" font-size="28.9" textLength="11.77" lengthAdjust="spacingAndGlyphs">9</tspan><tspan x="1123.84" y="551.86" font-size="24.35" textLength="25.07" lengthAdjust="spacingAndGlyphs">歳</tspan></text>
<text class="lab"><tspan x="1049.46" y="583.72" font-size="28.5" textLength="14.6" lengthAdjust="spacingAndGlyphs" class="ipa">1</tspan><tspan x="1063.25" y="582.3" font-size="28.9" textLength="11.77" lengthAdjust="spacingAndGlyphs">0</tspan><tspan x="1077.17" y="579.94" font-size="20.5" textLength="20.81" lengthAdjust="spacingAndGlyphs">～</tspan><tspan x="1098.36" y="583.72" font-size="28.5" textLength="14.6" lengthAdjust="spacingAndGlyphs" class="ipa">1</tspan><tspan x="1112.15" y="582.3" font-size="28.9" textLength="11.77" lengthAdjust="spacingAndGlyphs">4</tspan><tspan x="1123.84" y="581.35" font-size="24.35" textLength="25.07" lengthAdjust="spacingAndGlyphs">歳</tspan></text>
<text class="lab"><tspan x="1049.86" y="611.64" font-size="27.2" textLength="26.55" lengthAdjust="spacingAndGlyphs">５</tspan><tspan x="1077.17" y="609.43" font-size="20.5" textLength="20.81" lengthAdjust="spacingAndGlyphs">～</tspan><tspan x="1098.36" y="611.64" font-size="27.2" textLength="26.55" lengthAdjust="spacingAndGlyphs">９</tspan><tspan x="1123.84" y="610.84" font-size="24.35" textLength="25.07" lengthAdjust="spacingAndGlyphs">歳</tspan></text>
<text class="lab"><tspan x="1049.46" y="641.13" font-size="27.2" textLength="26.55" lengthAdjust="spacingAndGlyphs">０</tspan><tspan x="1077.17" y="638.92" font-size="20.5" textLength="20.81" lengthAdjust="spacingAndGlyphs">～</tspan><tspan x="1098.23" y="641.13" font-size="27.2" textLength="26.55" lengthAdjust="spacingAndGlyphs">４</tspan><tspan x="1123.84" y="640.33" font-size="24.35" textLength="25.07" lengthAdjust="spacingAndGlyphs">歳</tspan></text>
<text class="yr"><tspan x="1058.8" y="107.35" font-size="29" textLength="15.23" lengthAdjust="spacingAndGlyphs" class="ipa">1</tspan><tspan x="1072.98" y="105.6" font-size="29" textLength="11.13" lengthAdjust="spacingAndGlyphs">9</tspan><tspan x="1085.28" y="105.6" font-size="29" textLength="11.13" lengthAdjust="spacingAndGlyphs">9</tspan><tspan x="1097.63" y="105.6" font-size="29" textLength="11.13" lengthAdjust="spacingAndGlyphs">0</tspan><tspan x="1108.7" y="105" font-size="24.8" textLength="25.79" lengthAdjust="spacingAndGlyphs">年</tspan></text>
<text class="ave"><tspan x="1386.29" y="402.5" font-size="29" textLength="11.41" lengthAdjust="spacingAndGlyphs">A</tspan><tspan x="1399.19" y="402.5" font-size="29" textLength="10" lengthAdjust="spacingAndGlyphs">v</tspan><tspan x="1410.84" y="402.5" font-size="29" textLength="11.29" lengthAdjust="spacingAndGlyphs">e</tspan><tspan x="1421.24" y="402.5" font-size="29" textLength="10.48" lengthAdjust="spacingAndGlyphs">.</tspan><tspan x="1435.15" y="402.5" font-size="29" textLength="11.45" lengthAdjust="spacingAndGlyphs">3</tspan><tspan x="1447.24" y="402.5" font-size="29" textLength="11.45" lengthAdjust="spacingAndGlyphs">7</tspan><tspan x="1457.82" y="402.5" font-size="29" textLength="10.48" lengthAdjust="spacingAndGlyphs">.</tspan><tspan x="1471.62" y="402.5" font-size="29" textLength="11.45" lengthAdjust="spacingAndGlyphs">2</tspan></text>
<g fill="#ff99ff"><rect x="114.8" y="706.1" width="160.4" height="18.9"/><rect x="154.9" y="735.1" width="120.3" height="18.9"/><rect x="126" y="764.1" width="149.2" height="18.9"/><rect x="90" y="793.1" width="185.2" height="18.9"/><rect x="112.9" y="822.1" width="162.3" height="18.9"/><rect x="131.1" y="851.1" width="144.1" height="18.9"/><rect x="123.2" y="880.1" width="152" height="18.9"/><rect x="109" y="909.1" width="166.2" height="18.9"/><rect x="88.9" y="938.1" width="186.3" height="18.9"/><rect x="115.7" y="967.1" width="159.5" height="18.9"/><rect x="135" y="996.1" width="140.2" height="18.9"/><rect x="151.7" y="1025.1" width="123.5" height="18.9"/><rect x="160.3" y="1054.1" width="114.9" height="18.9"/><rect x="162.2" y="1083.1" width="113" height="18.9"/><rect x="169.1" y="1112.1" width="106.1" height="18.9"/><rect x="174.2" y="1141.1" width="101" height="18.9"/><rect x="178.9" y="1170.1" width="96.3" height="18.9"/><rect x="190.1" y="1199.1" width="85.1" height="18.9"/></g>
<g fill="#ccccff"><rect x="411.6" y="700.7" width="73.1" height="19.3"/><rect x="411.6" y="730.06" width="85.1" height="19.3"/><rect x="411.6" y="759.42" width="120" height="19.3"/><rect x="411.6" y="788.78" width="165.3" height="19.3"/><rect x="411.6" y="818.14" width="152.2" height="19.3"/><rect x="411.6" y="847.5" width="139.3" height="19.3"/><rect x="411.6" y="876.86" width="150.1" height="19.3"/><rect x="411.6" y="906.22" width="166.4" height="19.3"/><rect x="411.6" y="935.58" width="189.3" height="19.3"/><rect x="411.6" y="964.94" width="162.7" height="19.3"/><rect x="411.6" y="994.3" width="143.6" height="19.3"/><rect x="411.6" y="1023.66" width="128.2" height="19.3"/><rect x="411.6" y="1053.02" width="119.4" height="19.3"/><rect x="411.6" y="1082.38" width="117.3" height="19.3"/><rect x="411.6" y="1111.74" width="111.9" height="19.3"/><rect x="411.6" y="1141.1" width="106.3" height="19.3"/><rect x="411.6" y="1170.46" width="101.4" height="19.3"/><rect x="411.6" y="1199.82" width="89.6" height="19.3"/></g>
<rect x="61" y="931" width="655.8" height="1" fill="#e4bcbc"/><rect x="61" y="932" width="655.8" height="1" fill="#c08488"/><rect x="61" y="933" width="655.8" height="1" fill="#f8ecec"/>
<g fill="#383838"><rect x="275.2" y="700.7" width="1.9" height="521.9"/><rect x="409.5" y="695.3" width="2.1" height="528.7"/></g>
<text class="lab"><tspan x="293.02" y="720.45" font-size="28.9" textLength="11.89" lengthAdjust="spacingAndGlyphs">8</tspan><tspan x="305.48" y="720.45" font-size="28.9" textLength="11.89" lengthAdjust="spacingAndGlyphs">5</tspan><tspan x="317.28" y="719.5" font-size="24.35" textLength="25.33" lengthAdjust="spacingAndGlyphs">歳</tspan><tspan x="341.86" y="719.5" font-size="24.35" textLength="25.33" lengthAdjust="spacingAndGlyphs">以</tspan><tspan x="366.68" y="719.5" font-size="24.35" textLength="25.33" lengthAdjust="spacingAndGlyphs">上</tspan></text>
<text class="lab"><tspan x="293.02" y="749.83" font-size="28.9" textLength="11.89" lengthAdjust="spacingAndGlyphs">8</tspan><tspan x="305.48" y="749.83" font-size="28.9" textLength="11.89" lengthAdjust="spacingAndGlyphs">0</tspan><tspan x="319.54" y="747.47" font-size="20.5" textLength="21.02" lengthAdjust="spacingAndGlyphs">～</tspan><tspan x="342.42" y="749.83" font-size="28.9" textLength="11.89" lengthAdjust="spacingAndGlyphs">8</tspan><tspan x="354.88" y="749.83" font-size="28.9" textLength="11.89" lengthAdjust="spacingAndGlyphs">4</tspan><tspan x="366.68" y="748.88" font-size="24.35" textLength="25.33" lengthAdjust="spacingAndGlyphs">歳</tspan></text>
<text class="lab"><tspan x="293.13" y="779.2" font-size="28.9" textLength="11.89" lengthAdjust="spacingAndGlyphs">7</tspan><tspan x="305.48" y="779.2" font-size="28.9" textLength="11.89" lengthAdjust="spacingAndGlyphs">5</tspan><tspan x="319.54" y="776.84" font-size="20.5" textLength="21.02" lengthAdjust="spacingAndGlyphs">～</tspan><tspan x="342.53" y="779.2" font-size="28.9" textLength="11.89" lengthAdjust="spacingAndGlyphs">7</tspan><tspan x="354.88" y="779.2" font-size="28.9" textLength="11.89" lengthAdjust="spacingAndGlyphs">9</tspan><tspan x="366.68" y="778.25" font-size="24.35" textLength="25.33" lengthAdjust="spacingAndGlyphs">歳</tspan></text>
<text class="lab"><tspan x="293.13" y="808.58" font-size="28.9" textLength="11.89" lengthAdjust="spacingAndGlyphs">7</tspan><tspan x="305.48" y="808.58" font-size="28.9" textLength="11.89" lengthAdjust="spacingAndGlyphs">0</tspan><tspan x="319.54" y="806.22" font-size="20.5" textLength="21.02" lengthAdjust="spacingAndGlyphs">～</tspan><tspan x="342.53" y="808.58" font-size="28.9" textLength="11.89" lengthAdjust="spacingAndGlyphs">7</tspan><tspan x="354.88" y="808.58" font-size="28.9" textLength="11.89" lengthAdjust="spacingAndGlyphs">4</tspan><tspan x="366.68" y="807.62" font-size="24.35" textLength="25.33" lengthAdjust="spacingAndGlyphs">歳</tspan></text>
<text class="lab"><tspan x="293.13" y="837.95" font-size="28.9" textLength="11.89" lengthAdjust="spacingAndGlyphs">6</tspan><tspan x="305.48" y="837.95" font-size="28.9" textLength="11.89" lengthAdjust="spacingAndGlyphs">5</tspan><tspan x="319.54" y="835.59" font-size="20.5" textLength="21.02" lengthAdjust="spacingAndGlyphs">～</tspan><tspan x="342.53" y="837.95" font-size="28.9" textLength="11.89" lengthAdjust="spacingAndGlyphs">6</tspan><tspan x="354.88" y="837.95" font-size="28.9" textLength="11.89" lengthAdjust="spacingAndGlyphs">9</tspan><tspan x="366.68" y="837" font-size="24.35" textLength="25.33" lengthAdjust="spacingAndGlyphs">歳</tspan></text>
<text class="lab"><tspan x="293.13" y="867.33" font-size="28.9" textLength="11.89" lengthAdjust="spacingAndGlyphs">6</tspan><tspan x="305.48" y="867.33" font-size="28.9" textLength="11.89" lengthAdjust="spacingAndGlyphs">0</tspan><tspan x="319.54" y="864.97" font-size="20.5" textLength="21.02" lengthAdjust="spacingAndGlyphs">～</tspan><tspan x="342.53" y="867.33" font-size="28.9" textLength="11.89" lengthAdjust="spacingAndGlyphs">6</tspan><tspan x="354.88" y="867.33" font-size="28.9" textLength="11.89" lengthAdjust="spacingAndGlyphs">4</tspan><tspan x="366.68" y="866.38" font-size="24.35" textLength="25.33" lengthAdjust="spacingAndGlyphs">歳</tspan></text>
<text class="lab"><tspan x="293.13" y="896.7" font-size="28.9" textLength="11.89" lengthAdjust="spacingAndGlyphs">5</tspan><tspan x="305.48" y="896.7" font-size="28.9" textLength="11.89" lengthAdjust="spacingAndGlyphs">5</tspan><tspan x="319.54" y="894.34" font-size="20.5" textLength="21.02" lengthAdjust="spacingAndGlyphs">～</tspan><tspan x="342.53" y="896.7" font-size="28.9" textLength="11.89" lengthAdjust="spacingAndGlyphs">5</tspan><tspan x="354.88" y="896.7" font-size="28.9" textLength="11.89" lengthAdjust="spacingAndGlyphs">9</tspan><tspan x="366.68" y="895.75" font-size="24.35" textLength="25.33" lengthAdjust="spacingAndGlyphs">歳</tspan></text>
<text class="lab"><tspan x="293.13" y="926.08" font-size="28.9" textLength="11.89" lengthAdjust="spacingAndGlyphs">5</tspan><tspan x="305.48" y="926.08" font-size="28.9" textLength="11.89" lengthAdjust="spacingAndGlyphs">0</tspan><tspan x="319.54" y="923.72" font-size="20.5" textLength="21.02" lengthAdjust="spacingAndGlyphs">～</tspan><tspan x="342.53" y="926.08" font-size="28.9" textLength="11.89" lengthAdjust="spacingAndGlyphs">5</tspan><tspan x="354.88" y="926.08" font-size="28.9" textLength="11.89" lengthAdjust="spacingAndGlyphs">4</tspan><tspan x="366.68" y="925.12" font-size="24.35" textLength="25.33" lengthAdjust="spacingAndGlyphs">歳</tspan></text>
<text class="lab"><tspan x="293.13" y="955.45" font-size="28.9" textLength="11.89" lengthAdjust="spacingAndGlyphs">4</tspan><tspan x="305.48" y="955.45" font-size="28.9" textLength="11.89" lengthAdjust="spacingAndGlyphs">5</tspan><tspan x="319.54" y="953.09" font-size="20.5" textLength="21.02" lengthAdjust="spacingAndGlyphs">～</tspan><tspan x="342.53" y="955.45" font-size="28.9" textLength="11.89" lengthAdjust="spacingAndGlyphs">4</tspan><tspan x="354.88" y="955.45" font-size="28.9" textLength="11.89" lengthAdjust="spacingAndGlyphs">9</tspan><tspan x="366.68" y="954.5" font-size="24.35" textLength="25.33" lengthAdjust="spacingAndGlyphs">歳</tspan></text>
<text class="lab"><tspan x="293.13" y="984.83" font-size="28.9" textLength="11.89" lengthAdjust="spacingAndGlyphs">4</tspan><tspan x="305.48" y="984.83" font-size="28.9" textLength="11.89" lengthAdjust="spacingAndGlyphs">0</tspan><tspan x="319.54" y="982.47" font-size="20.5" textLength="21.02" lengthAdjust="spacingAndGlyphs">～</tspan><tspan x="342.53" y="984.83" font-size="28.9" textLength="11.89" lengthAdjust="spacingAndGlyphs">4</tspan><tspan x="354.88" y="984.83" font-size="28.9" textLength="11.89" lengthAdjust="spacingAndGlyphs">4</tspan><tspan x="366.68" y="983.88" font-size="24.35" textLength="25.33" lengthAdjust="spacingAndGlyphs">歳</tspan></text>
<text class="lab"><tspan x="293.24" y="1014.2" font-size="28.9" textLength="11.89" lengthAdjust="spacingAndGlyphs">3</tspan><tspan x="305.48" y="1014.2" font-size="28.9" textLength="11.89" lengthAdjust="spacingAndGlyphs">5</tspan><tspan x="319.54" y="1011.84" font-size="20.5" textLength="21.02" lengthAdjust="spacingAndGlyphs">～</tspan><tspan x="342.64" y="1014.2" font-size="28.9" textLength="11.89" lengthAdjust="spacingAndGlyphs">3</tspan><tspan x="354.88" y="1014.2" font-size="28.9" textLength="11.89" lengthAdjust="spacingAndGlyphs">9</tspan><tspan x="366.68" y="1013.25" font-size="24.35" textLength="25.33" lengthAdjust="spacingAndGlyphs">歳</tspan></text>
<text class="lab"><tspan x="293.24" y="1043.58" font-size="28.9" textLength="11.89" lengthAdjust="spacingAndGlyphs">3</tspan><tspan x="305.48" y="1043.58" font-size="28.9" textLength="11.89" lengthAdjust="spacingAndGlyphs">0</tspan><tspan x="319.54" y="1041.21" font-size="20.5" textLength="21.02" lengthAdjust="spacingAndGlyphs">～</tspan><tspan x="342.64" y="1043.58" font-size="28.9" textLength="11.89" lengthAdjust="spacingAndGlyphs">3</tspan><tspan x="354.88" y="1043.58" font-size="28.9" textLength="11.89" lengthAdjust="spacingAndGlyphs">4</tspan><tspan x="366.68" y="1042.62" font-size="24.35" textLength="25.33" lengthAdjust="spacingAndGlyphs">歳</tspan></text>
<text class="lab"><tspan x="293.13" y="1072.95" font-size="28.9" textLength="11.89" lengthAdjust="spacingAndGlyphs">2</tspan><tspan x="305.48" y="1072.95" font-size="28.9" textLength="11.89" lengthAdjust="spacingAndGlyphs">5</tspan><tspan x="319.54" y="1070.59" font-size="20.5" textLength="21.02" lengthAdjust="spacingAndGlyphs">～</tspan><tspan x="342.53" y="1072.95" font-size="28.9" textLength="11.89" lengthAdjust="spacingAndGlyphs">2</tspan><tspan x="354.88" y="1072.95" font-size="28.9" textLength="11.89" lengthAdjust="spacingAndGlyphs">9</tspan><tspan x="366.68" y="1072" font-size="24.35" textLength="25.33" lengthAdjust="spacingAndGlyphs">歳</tspan></text>
<text class="lab"><tspan x="293.13" y="1102.33" font-size="28.9" textLength="11.89" lengthAdjust="spacingAndGlyphs">2</tspan><tspan x="305.48" y="1102.33" font-size="28.9" textLength="11.89" lengthAdjust="spacingAndGlyphs">0</tspan><tspan x="319.54" y="1099.96" font-size="20.5" textLength="21.02" lengthAdjust="spacingAndGlyphs">～</tspan><tspan x="342.53" y="1102.33" font-size="28.9" textLength="11.89" lengthAdjust="spacingAndGlyphs">2</tspan><tspan x="354.88" y="1102.33" font-size="28.9" textLength="11.89" lengthAdjust="spacingAndGlyphs">4</tspan><tspan x="366.68" y="1101.38" font-size="24.35" textLength="25.33" lengthAdjust="spacingAndGlyphs">歳</tspan></text>
<text class="lab"><tspan x="291.55" y="1133.12" font-size="28.5" textLength="14.75" lengthAdjust="spacingAndGlyphs" class="ipa">1</tspan><tspan x="305.48" y="1131.7" font-size="28.9" textLength="11.89" lengthAdjust="spacingAndGlyphs">5</tspan><tspan x="319.54" y="1129.34" font-size="20.5" textLength="21.02" lengthAdjust="spacingAndGlyphs">～</tspan><tspan x="340.95" y="1133.12" font-size="28.5" textLength="14.75" lengthAdjust="spacingAndGlyphs" class="ipa">1</tspan><tspan x="354.88" y="1131.7" font-size="28.9" textLength="11.89" lengthAdjust="spacingAndGlyphs">9</tspan><tspan x="366.68" y="1130.75" font-size="24.35" textLength="25.33" lengthAdjust="spacingAndGlyphs">歳</tspan></text>
<text class="lab"><tspan x="291.55" y="1162.5" font-size="28.5" textLength="14.75" lengthAdjust="spacingAndGlyphs" class="ipa">1</tspan><tspan x="305.48" y="1161.08" font-size="28.9" textLength="11.89" lengthAdjust="spacingAndGlyphs">0</tspan><tspan x="319.54" y="1158.71" font-size="20.5" textLength="21.02" lengthAdjust="spacingAndGlyphs">～</tspan><tspan x="340.95" y="1162.5" font-size="28.5" textLength="14.75" lengthAdjust="spacingAndGlyphs" class="ipa">1</tspan><tspan x="354.88" y="1161.08" font-size="28.9" textLength="11.89" lengthAdjust="spacingAndGlyphs">4</tspan><tspan x="366.68" y="1160.12" font-size="24.35" textLength="25.33" lengthAdjust="spacingAndGlyphs">歳</tspan></text>
<text class="lab"><tspan x="291.95" y="1190.3" font-size="27.2" textLength="26.82" lengthAdjust="spacingAndGlyphs">５</tspan><tspan x="319.54" y="1188.09" font-size="20.5" textLength="21.02" lengthAdjust="spacingAndGlyphs">～</tspan><tspan x="340.94" y="1190.3" font-size="27.2" textLength="26.82" lengthAdjust="spacingAndGlyphs">９</tspan><tspan x="366.68" y="1189.5" font-size="24.35" textLength="25.33" lengthAdjust="spacingAndGlyphs">歳</tspan></text>
<text class="lab"><tspan x="291.54" y="1219.67" font-size="27.2" textLength="26.82" lengthAdjust="spacingAndGlyphs">０</tspan><tspan x="319.54" y="1217.46" font-size="20.5" textLength="21.02" lengthAdjust="spacingAndGlyphs">～</tspan><tspan x="340.81" y="1219.67" font-size="27.2" textLength="26.82" lengthAdjust="spacingAndGlyphs">４</tspan><tspan x="366.68" y="1218.88" font-size="24.35" textLength="25.33" lengthAdjust="spacingAndGlyphs">歳</tspan></text>
<text class="yr"><tspan x="312.88" y="687.5" font-size="29" textLength="11.13" lengthAdjust="spacingAndGlyphs">2</tspan><tspan x="325.28" y="687.5" font-size="29" textLength="11.13" lengthAdjust="spacingAndGlyphs">0</tspan><tspan x="337.68" y="687.5" font-size="29" textLength="11.13" lengthAdjust="spacingAndGlyphs">2</tspan><tspan x="350.38" y="687.5" font-size="29" textLength="11.13" lengthAdjust="spacingAndGlyphs">0</tspan><tspan x="361.6" y="686.9" font-size="24.8" textLength="25.79" lengthAdjust="spacingAndGlyphs">年</tspan></text>
<text class="ave"><tspan x="622.29" y="922.5" font-size="29" textLength="11.41" lengthAdjust="spacingAndGlyphs">A</tspan><tspan x="635.36" y="922.5" font-size="29" textLength="10" lengthAdjust="spacingAndGlyphs">v</tspan><tspan x="647.18" y="922.5" font-size="29" textLength="11.29" lengthAdjust="spacingAndGlyphs">e</tspan><tspan x="657.75" y="922.5" font-size="29" textLength="10.48" lengthAdjust="spacingAndGlyphs">.</tspan><tspan x="671.73" y="922.5" font-size="29" textLength="11.45" lengthAdjust="spacingAndGlyphs">4</tspan><tspan x="684.09" y="922.5" font-size="29" textLength="11.45" lengthAdjust="spacingAndGlyphs">7</tspan><tspan x="694.85" y="922.5" font-size="29" textLength="10.48" lengthAdjust="spacingAndGlyphs">.</tspan><tspan x="708.82" y="922.5" font-size="29" textLength="11.45" lengthAdjust="spacingAndGlyphs">4</tspan></text>
<g fill="#ff99ff"><rect x="815.2" y="706" width="218.9" height="19"/><rect x="867.9" y="735.11" width="166.2" height="19"/><rect x="879.9" y="764.22" width="154.2" height="19"/><rect x="893.2" y="793.33" width="140.9" height="19"/><rect x="883.1" y="822.44" width="151" height="19"/><rect x="867.9" y="851.55" width="166.2" height="19"/><rect x="846" y="880.66" width="188.1" height="19"/><rect x="872.6" y="909.77" width="161.5" height="19"/><rect x="891.3" y="938.88" width="142.8" height="19"/><rect x="908.6" y="967.99" width="125.5" height="19"/><rect x="915.9" y="997.1" width="118.2" height="19"/><rect x="914.6" y="1026.21" width="119.5" height="19"/><rect x="921.9" y="1055.32" width="112.2" height="19"/><rect x="929" y="1084.43" width="105.1" height="19"/><rect x="937.8" y="1113.54" width="96.3" height="19"/><rect x="942.9" y="1142.65" width="91.2" height="19"/><rect x="951.9" y="1171.76" width="82.2" height="19"/><rect x="955" y="1200.87" width="79.1" height="19"/></g>
<g fill="#ccccff"><rect x="1173.4" y="701.1" width="108.8" height="19.3"/><rect x="1173.4" y="730.56" width="124.9" height="19.3"/><rect x="1173.4" y="760.02" width="129.4" height="19.3"/><rect x="1173.4" y="789.48" width="127.3" height="19.3"/><rect x="1173.4" y="818.94" width="143.5" height="19.3"/><rect x="1173.4" y="848.4" width="163.9" height="19.3"/><rect x="1173.4" y="877.86" width="189.4" height="19.3"/><rect x="1173.4" y="907.32" width="163.9" height="19.3"/><rect x="1173.4" y="936.78" width="145.3" height="19.3"/><rect x="1173.4" y="966.24" width="130.3" height="19.3"/><rect x="1173.4" y="995.7" width="124.9" height="19.3"/><rect x="1173.4" y="1025.16" width="127" height="19.3"/><rect x="1173.4" y="1054.62" width="117.8" height="19.3"/><rect x="1173.4" y="1084.08" width="109.9" height="19.3"/><rect x="1173.4" y="1113.54" width="101.3" height="19.3"/><rect x="1173.4" y="1143" width="95.5" height="19.3"/><rect x="1173.4" y="1172.46" width="87.4" height="19.3"/><rect x="1173.4" y="1201.92" width="83.3" height="19.3"/></g>
<rect x="790" y="929" width="692.9" height="1" fill="#f0b0b0"/><rect x="790" y="930" width="692.9" height="1" fill="#a53434"/><rect x="790" y="931" width="692.9" height="1" fill="#fbe4e4"/>
<g fill="#383838"><rect x="1034.1" y="701.1" width="2.2" height="523.8"/><rect x="1171.2" y="695.7" width="2.2" height="530.5"/></g>
<text class="lab"><tspan x="1053.13" y="720.15" font-size="28.9" textLength="12.01" lengthAdjust="spacingAndGlyphs">8</tspan><tspan x="1065.71" y="720.15" font-size="28.9" textLength="12.01" lengthAdjust="spacingAndGlyphs">5</tspan><tspan x="1077.63" y="719.2" font-size="24.35" textLength="25.59" lengthAdjust="spacingAndGlyphs">歳</tspan><tspan x="1102.45" y="719.2" font-size="24.35" textLength="25.59" lengthAdjust="spacingAndGlyphs">以</tspan><tspan x="1127.53" y="719.2" font-size="24.35" textLength="25.59" lengthAdjust="spacingAndGlyphs">上</tspan></text>
<text class="lab"><tspan x="1053.13" y="749.64" font-size="28.9" textLength="12.01" lengthAdjust="spacingAndGlyphs">8</tspan><tspan x="1065.71" y="749.64" font-size="28.9" textLength="12.01" lengthAdjust="spacingAndGlyphs">0</tspan><tspan x="1079.91" y="747.28" font-size="20.5" textLength="21.23" lengthAdjust="spacingAndGlyphs">～</tspan><tspan x="1103.03" y="749.64" font-size="28.9" textLength="12.01" lengthAdjust="spacingAndGlyphs">8</tspan><tspan x="1115.61" y="749.64" font-size="28.9" textLength="12.01" lengthAdjust="spacingAndGlyphs">4</tspan><tspan x="1127.53" y="748.69" font-size="24.35" textLength="25.59" lengthAdjust="spacingAndGlyphs">歳</tspan></text>
<text class="lab"><tspan x="1053.23" y="779.13" font-size="28.9" textLength="12.01" lengthAdjust="spacingAndGlyphs">7</tspan><tspan x="1065.71" y="779.13" font-size="28.9" textLength="12.01" lengthAdjust="spacingAndGlyphs">5</tspan><tspan x="1079.91" y="776.77" font-size="20.5" textLength="21.23" lengthAdjust="spacingAndGlyphs">～</tspan><tspan x="1103.13" y="779.13" font-size="28.9" textLength="12.01" lengthAdjust="spacingAndGlyphs">7</tspan><tspan x="1115.61" y="779.13" font-size="28.9" textLength="12.01" lengthAdjust="spacingAndGlyphs">9</tspan><tspan x="1127.53" y="778.18" font-size="24.35" textLength="25.59" lengthAdjust="spacingAndGlyphs">歳</tspan></text>
<text class="lab"><tspan x="1053.23" y="808.62" font-size="28.9" textLength="12.01" lengthAdjust="spacingAndGlyphs">7</tspan><tspan x="1065.71" y="808.62" font-size="28.9" textLength="12.01" lengthAdjust="spacingAndGlyphs">0</tspan><tspan x="1079.91" y="806.26" font-size="20.5" textLength="21.23" lengthAdjust="spacingAndGlyphs">～</tspan><tspan x="1103.13" y="808.62" font-size="28.9" textLength="12.01" lengthAdjust="spacingAndGlyphs">7</tspan><tspan x="1115.61" y="808.62" font-size="28.9" textLength="12.01" lengthAdjust="spacingAndGlyphs">4</tspan><tspan x="1127.53" y="807.67" font-size="24.35" textLength="25.59" lengthAdjust="spacingAndGlyphs">歳</tspan></text>
<text class="lab"><tspan x="1053.23" y="838.11" font-size="28.9" textLength="12.01" lengthAdjust="spacingAndGlyphs">6</tspan><tspan x="1065.71" y="838.11" font-size="28.9" textLength="12.01" lengthAdjust="spacingAndGlyphs">5</tspan><tspan x="1079.91" y="835.75" font-size="20.5" textLength="21.23" lengthAdjust="spacingAndGlyphs">～</tspan><tspan x="1103.13" y="838.11" font-size="28.9" textLength="12.01" lengthAdjust="spacingAndGlyphs">6</tspan><tspan x="1115.61" y="838.11" font-size="28.9" textLength="12.01" lengthAdjust="spacingAndGlyphs">9</tspan><tspan x="1127.53" y="837.16" font-size="24.35" textLength="25.59" lengthAdjust="spacingAndGlyphs">歳</tspan></text>
<text class="lab"><tspan x="1053.23" y="867.6" font-size="28.9" textLength="12.01" lengthAdjust="spacingAndGlyphs">6</tspan><tspan x="1065.71" y="867.6" font-size="28.9" textLength="12.01" lengthAdjust="spacingAndGlyphs">0</tspan><tspan x="1079.91" y="865.24" font-size="20.5" textLength="21.23" lengthAdjust="spacingAndGlyphs">～</tspan><tspan x="1103.13" y="867.6" font-size="28.9" textLength="12.01" lengthAdjust="spacingAndGlyphs">6</tspan><tspan x="1115.61" y="867.6" font-size="28.9" textLength="12.01" lengthAdjust="spacingAndGlyphs">4</tspan><tspan x="1127.53" y="866.65" font-size="24.35" textLength="25.59" lengthAdjust="spacingAndGlyphs">歳</tspan></text>
<text class="lab"><tspan x="1053.23" y="897.09" font-size="28.9" textLength="12.01" lengthAdjust="spacingAndGlyphs">5</tspan><tspan x="1065.71" y="897.09" font-size="28.9" textLength="12.01" lengthAdjust="spacingAndGlyphs">5</tspan><tspan x="1079.91" y="894.73" font-size="20.5" textLength="21.23" lengthAdjust="spacingAndGlyphs">～</tspan><tspan x="1103.13" y="897.09" font-size="28.9" textLength="12.01" lengthAdjust="spacingAndGlyphs">5</tspan><tspan x="1115.61" y="897.09" font-size="28.9" textLength="12.01" lengthAdjust="spacingAndGlyphs">9</tspan><tspan x="1127.53" y="896.14" font-size="24.35" textLength="25.59" lengthAdjust="spacingAndGlyphs">歳</tspan></text>
<text class="lab"><tspan x="1053.23" y="926.58" font-size="28.9" textLength="12.01" lengthAdjust="spacingAndGlyphs">5</tspan><tspan x="1065.71" y="926.58" font-size="28.9" textLength="12.01" lengthAdjust="spacingAndGlyphs">0</tspan><tspan x="1079.91" y="924.22" font-size="20.5" textLength="21.23" lengthAdjust="spacingAndGlyphs">～</tspan><tspan x="1103.13" y="926.58" font-size="28.9" textLength="12.01" lengthAdjust="spacingAndGlyphs">5</tspan><tspan x="1115.61" y="926.58" font-size="28.9" textLength="12.01" lengthAdjust="spacingAndGlyphs">4</tspan><tspan x="1127.53" y="925.63" font-size="24.35" textLength="25.59" lengthAdjust="spacingAndGlyphs">歳</tspan></text>
<text class="lab"><tspan x="1053.23" y="956.07" font-size="28.9" textLength="12.01" lengthAdjust="spacingAndGlyphs">4</tspan><tspan x="1065.71" y="956.07" font-size="28.9" textLength="12.01" lengthAdjust="spacingAndGlyphs">5</tspan><tspan x="1079.91" y="953.71" font-size="20.5" textLength="21.23" lengthAdjust="spacingAndGlyphs">～</tspan><tspan x="1103.13" y="956.07" font-size="28.9" textLength="12.01" lengthAdjust="spacingAndGlyphs">4</tspan><tspan x="1115.61" y="956.07" font-size="28.9" textLength="12.01" lengthAdjust="spacingAndGlyphs">9</tspan><tspan x="1127.53" y="955.12" font-size="24.35" textLength="25.59" lengthAdjust="spacingAndGlyphs">歳</tspan></text>
<text class="lab"><tspan x="1053.23" y="985.56" font-size="28.9" textLength="12.01" lengthAdjust="spacingAndGlyphs">4</tspan><tspan x="1065.71" y="985.56" font-size="28.9" textLength="12.01" lengthAdjust="spacingAndGlyphs">0</tspan><tspan x="1079.91" y="983.2" font-size="20.5" textLength="21.23" lengthAdjust="spacingAndGlyphs">～</tspan><tspan x="1103.13" y="985.56" font-size="28.9" textLength="12.01" lengthAdjust="spacingAndGlyphs">4</tspan><tspan x="1115.61" y="985.56" font-size="28.9" textLength="12.01" lengthAdjust="spacingAndGlyphs">4</tspan><tspan x="1127.53" y="984.61" font-size="24.35" textLength="25.59" lengthAdjust="spacingAndGlyphs">歳</tspan></text>
<text class="lab"><tspan x="1053.34" y="1015.05" font-size="28.9" textLength="12.01" lengthAdjust="spacingAndGlyphs">3</tspan><tspan x="1065.71" y="1015.05" font-size="28.9" textLength="12.01" lengthAdjust="spacingAndGlyphs">5</tspan><tspan x="1079.91" y="1012.69" font-size="20.5" textLength="21.23" lengthAdjust="spacingAndGlyphs">～</tspan><tspan x="1103.24" y="1015.05" font-size="28.9" textLength="12.01" lengthAdjust="spacingAndGlyphs">3</tspan><tspan x="1115.61" y="1015.05" font-size="28.9" textLength="12.01" lengthAdjust="spacingAndGlyphs">9</tspan><tspan x="1127.53" y="1014.1" font-size="24.35" textLength="25.59" lengthAdjust="spacingAndGlyphs">歳</tspan></text>
<text class="lab"><tspan x="1053.34" y="1044.54" font-size="28.9" textLength="12.01" lengthAdjust="spacingAndGlyphs">3</tspan><tspan x="1065.71" y="1044.54" font-size="28.9" textLength="12.01" lengthAdjust="spacingAndGlyphs">0</tspan><tspan x="1079.91" y="1042.18" font-size="20.5" textLength="21.23" lengthAdjust="spacingAndGlyphs">～</tspan><tspan x="1103.24" y="1044.54" font-size="28.9" textLength="12.01" lengthAdjust="spacingAndGlyphs">3</tspan><tspan x="1115.61" y="1044.54" font-size="28.9" textLength="12.01" lengthAdjust="spacingAndGlyphs">4</tspan><tspan x="1127.53" y="1043.59" font-size="24.35" textLength="25.59" lengthAdjust="spacingAndGlyphs">歳</tspan></text>
<text class="lab"><tspan x="1053.23" y="1074.03" font-size="28.9" textLength="12.01" lengthAdjust="spacingAndGlyphs">2</tspan><tspan x="1065.71" y="1074.03" font-size="28.9" textLength="12.01" lengthAdjust="spacingAndGlyphs">5</tspan><tspan x="1079.91" y="1071.67" font-size="20.5" textLength="21.23" lengthAdjust="spacingAndGlyphs">～</tspan><tspan x="1103.13" y="1074.03" font-size="28.9" textLength="12.01" lengthAdjust="spacingAndGlyphs">2</tspan><tspan x="1115.61" y="1074.03" font-size="28.9" textLength="12.01" lengthAdjust="spacingAndGlyphs">9</tspan><tspan x="1127.53" y="1073.08" font-size="24.35" textLength="25.59" lengthAdjust="spacingAndGlyphs">歳</tspan></text>
<text class="lab"><tspan x="1053.23" y="1103.52" font-size="28.9" textLength="12.01" lengthAdjust="spacingAndGlyphs">2</tspan><tspan x="1065.71" y="1103.52" font-size="28.9" textLength="12.01" lengthAdjust="spacingAndGlyphs">0</tspan><tspan x="1079.91" y="1101.16" font-size="20.5" textLength="21.23" lengthAdjust="spacingAndGlyphs">～</tspan><tspan x="1103.13" y="1103.52" font-size="28.9" textLength="12.01" lengthAdjust="spacingAndGlyphs">2</tspan><tspan x="1115.61" y="1103.52" font-size="28.9" textLength="12.01" lengthAdjust="spacingAndGlyphs">4</tspan><tspan x="1127.53" y="1102.57" font-size="24.35" textLength="25.59" lengthAdjust="spacingAndGlyphs">歳</tspan></text>
<text class="lab"><tspan x="1051.63" y="1134.43" font-size="28.5" textLength="14.9" lengthAdjust="spacingAndGlyphs" class="ipa">1</tspan><tspan x="1065.71" y="1133.01" font-size="28.9" textLength="12.01" lengthAdjust="spacingAndGlyphs">5</tspan><tspan x="1079.91" y="1130.65" font-size="20.5" textLength="21.23" lengthAdjust="spacingAndGlyphs">～</tspan><tspan x="1101.53" y="1134.43" font-size="28.5" textLength="14.9" lengthAdjust="spacingAndGlyphs" class="ipa">1</tspan><tspan x="1115.61" y="1133.01" font-size="28.9" textLength="12.01" lengthAdjust="spacingAndGlyphs">9</tspan><tspan x="1127.53" y="1132.06" font-size="24.35" textLength="25.59" lengthAdjust="spacingAndGlyphs">歳</tspan></text>
<text class="lab"><tspan x="1051.63" y="1163.92" font-size="28.5" textLength="14.9" lengthAdjust="spacingAndGlyphs" class="ipa">1</tspan><tspan x="1065.71" y="1162.5" font-size="28.9" textLength="12.01" lengthAdjust="spacingAndGlyphs">0</tspan><tspan x="1079.91" y="1160.14" font-size="20.5" textLength="21.23" lengthAdjust="spacingAndGlyphs">～</tspan><tspan x="1101.53" y="1163.92" font-size="28.5" textLength="14.9" lengthAdjust="spacingAndGlyphs" class="ipa">1</tspan><tspan x="1115.61" y="1162.5" font-size="28.9" textLength="12.01" lengthAdjust="spacingAndGlyphs">4</tspan><tspan x="1127.53" y="1161.55" font-size="24.35" textLength="25.59" lengthAdjust="spacingAndGlyphs">歳</tspan></text>
<text class="lab"><tspan x="1052.04" y="1191.84" font-size="27.2" textLength="27.09" lengthAdjust="spacingAndGlyphs">５</tspan><tspan x="1079.91" y="1189.63" font-size="20.5" textLength="21.23" lengthAdjust="spacingAndGlyphs">～</tspan><tspan x="1101.53" y="1191.84" font-size="27.2" textLength="27.09" lengthAdjust="spacingAndGlyphs">９</tspan><tspan x="1127.53" y="1191.04" font-size="24.35" textLength="25.59" lengthAdjust="spacingAndGlyphs">歳</tspan></text>
<text class="lab"><tspan x="1051.63" y="1221.33" font-size="27.2" textLength="27.09" lengthAdjust="spacingAndGlyphs">０</tspan><tspan x="1079.91" y="1219.12" font-size="20.5" textLength="21.23" lengthAdjust="spacingAndGlyphs">～</tspan><tspan x="1101.4" y="1221.33" font-size="27.2" textLength="27.09" lengthAdjust="spacingAndGlyphs">４</tspan><tspan x="1127.53" y="1220.53" font-size="24.35" textLength="25.59" lengthAdjust="spacingAndGlyphs">歳</tspan></text>
<text class="yr"><tspan x="1062.18" y="685.5" font-size="29" textLength="11.13" lengthAdjust="spacingAndGlyphs">2</tspan><tspan x="1074.88" y="685.5" font-size="29" textLength="11.13" lengthAdjust="spacingAndGlyphs">0</tspan><tspan x="1087.38" y="685.5" font-size="29" textLength="11.13" lengthAdjust="spacingAndGlyphs">3</tspan><tspan x="1099.73" y="685.5" font-size="29" textLength="11.13" lengthAdjust="spacingAndGlyphs">0</tspan><tspan x="1111.25" y="684.9" font-size="24.8" textLength="25.79" lengthAdjust="spacingAndGlyphs">年</tspan></text>
<text class="ave"><tspan x="1396.19" y="930.6" font-size="29" textLength="11.41" lengthAdjust="spacingAndGlyphs">A</tspan><tspan x="1409.33" y="930.6" font-size="29" textLength="10" lengthAdjust="spacingAndGlyphs">v</tspan><tspan x="1421.21" y="930.6" font-size="29" textLength="11.29" lengthAdjust="spacingAndGlyphs">e</tspan><tspan x="1431.85" y="930.6" font-size="29" textLength="10.48" lengthAdjust="spacingAndGlyphs">.</tspan><tspan x="1445.89" y="930.6" font-size="29" textLength="11.45" lengthAdjust="spacingAndGlyphs">4</tspan><tspan x="1458.32" y="930.6" font-size="29" textLength="11.45" lengthAdjust="spacingAndGlyphs">9</tspan><tspan x="1469.13" y="930.6" font-size="29" textLength="10.48" lengthAdjust="spacingAndGlyphs">.</tspan><tspan x="1483.07" y="930.6" font-size="29" textLength="11.45" lengthAdjust="spacingAndGlyphs">8</tspan></text>
<text class="src"><tspan x="33.05" y="1263.9" font-size="23.5" textLength="24.21" lengthAdjust="spacingAndGlyphs">出</tspan><tspan x="56.52" y="1263.9" font-size="23.5" textLength="24.21" lengthAdjust="spacingAndGlyphs">所</tspan><tspan x="80.3" y="1263.9" font-size="23.5" textLength="24.21" lengthAdjust="spacingAndGlyphs">：</tspan><tspan x="103" y="1263.9" font-size="23.5" textLength="24.21" lengthAdjust="spacingAndGlyphs">総</tspan><tspan x="125.78" y="1263.9" font-size="23.5" textLength="24.21" lengthAdjust="spacingAndGlyphs">務</tspan><tspan x="150.02" y="1263.9" font-size="23.5" textLength="24.21" lengthAdjust="spacingAndGlyphs">省</tspan><tspan x="173.4" y="1263.9" font-size="23.5" textLength="24.21" lengthAdjust="spacingAndGlyphs">統</tspan><tspan x="196.28" y="1263.9" font-size="23.5" textLength="24.21" lengthAdjust="spacingAndGlyphs">計</tspan><tspan x="220.62" y="1263.9" font-size="23.5" textLength="24.21" lengthAdjust="spacingAndGlyphs">局</tspan><tspan x="241.89" y="1263.9" font-size="23.5" textLength="24.21" lengthAdjust="spacingAndGlyphs">「</tspan><tspan x="267.8" y="1263.9" font-size="23.5" textLength="24.21" lengthAdjust="spacingAndGlyphs">国</tspan><tspan x="291.33" y="1263.9" font-size="23.5" textLength="24.21" lengthAdjust="spacingAndGlyphs">勢</tspan><tspan x="315.56" y="1263.9" font-size="23.5" textLength="24.21" lengthAdjust="spacingAndGlyphs">調</tspan><tspan x="338.1" y="1263.9" font-size="23.5" textLength="24.21" lengthAdjust="spacingAndGlyphs">査</tspan><tspan x="360.3" y="1263.9" font-size="23.5" textLength="24.21" lengthAdjust="spacingAndGlyphs">」</tspan><tspan x="370.76" y="1263.9" font-size="23.5" textLength="24.21" lengthAdjust="spacingAndGlyphs">、</tspan><tspan x="397.8" y="1263.9" font-size="23.5" textLength="24.21" lengthAdjust="spacingAndGlyphs">国</tspan><tspan x="420.3" y="1263.9" font-size="23.5" textLength="24.21" lengthAdjust="spacingAndGlyphs">立</tspan><tspan x="442.8" y="1263.9" font-size="23.5" textLength="24.21" lengthAdjust="spacingAndGlyphs">社</tspan><tspan x="466.68" y="1263.9" font-size="23.5" textLength="24.21" lengthAdjust="spacingAndGlyphs">会</tspan><tspan x="492.08" y="1263.9" font-size="23.5" textLength="24.21" lengthAdjust="spacingAndGlyphs">保</tspan><tspan x="515.21" y="1263.9" font-size="23.5" textLength="24.21" lengthAdjust="spacingAndGlyphs">障</tspan><tspan x="538.4" y="1263.9" font-size="23.5" textLength="24.21" lengthAdjust="spacingAndGlyphs">・</tspan><tspan x="561.78" y="1263.9" font-size="23.5" textLength="24.21" lengthAdjust="spacingAndGlyphs">人</tspan><tspan x="585.78" y="1263.9" font-size="23.5" textLength="24.21" lengthAdjust="spacingAndGlyphs">口</tspan><tspan x="609.4" y="1263.9" font-size="23.5" textLength="24.21" lengthAdjust="spacingAndGlyphs">問</tspan><tspan x="632.8" y="1263.9" font-size="23.5" textLength="24.21" lengthAdjust="spacingAndGlyphs">題</tspan><tspan x="655.92" y="1263.9" font-size="23.5" textLength="24.21" lengthAdjust="spacingAndGlyphs">研</tspan><tspan x="678.68" y="1263.9" font-size="23.5" textLength="24.21" lengthAdjust="spacingAndGlyphs">究</tspan><tspan x="702.92" y="1263.9" font-size="23.5" textLength="24.21" lengthAdjust="spacingAndGlyphs">所</tspan><tspan x="723.35" y="1263.6" font-size="23.3" textLength="23.77" lengthAdjust="spacingAndGlyphs" class="ser">「</tspan><tspan x="750.84" y="1263.6" font-size="23.3" textLength="23.77" lengthAdjust="spacingAndGlyphs" class="ser">日</tspan><tspan x="774.8" y="1263.6" font-size="23.3" textLength="23.77" lengthAdjust="spacingAndGlyphs" class="ser">本</tspan><tspan x="798.4" y="1263.6" font-size="23.3" textLength="23.77" lengthAdjust="spacingAndGlyphs" class="ser">の</tspan><tspan x="819.8" y="1263.6" font-size="23.3" textLength="23.77" lengthAdjust="spacingAndGlyphs" class="ser">将</tspan><tspan x="842.82" y="1263.6" font-size="23.3" textLength="23.77" lengthAdjust="spacingAndGlyphs" class="ser">来</tspan><tspan x="865.82" y="1263.6" font-size="23.3" textLength="23.77" lengthAdjust="spacingAndGlyphs" class="ser">推</tspan><tspan x="888.2" y="1263.6" font-size="23.3" textLength="23.77" lengthAdjust="spacingAndGlyphs" class="ser">計</tspan><tspan x="911.92" y="1263.6" font-size="23.3" textLength="23.77" lengthAdjust="spacingAndGlyphs" class="ser">人</tspan><tspan x="936.1" y="1263.6" font-size="23.3" textLength="23.77" lengthAdjust="spacingAndGlyphs" class="ser">口</tspan><tspan x="963.32" y="1263.6" font-size="23.3" textLength="23.77" lengthAdjust="spacingAndGlyphs" class="ser">（</tspan><tspan x="986.32" y="1263.6" font-size="23.3" textLength="23.77" lengthAdjust="spacingAndGlyphs" class="ser">平</tspan><tspan x="1009.94" y="1263.6" font-size="23.3" textLength="23.77" lengthAdjust="spacingAndGlyphs" class="ser">成</tspan><tspan> </tspan><tspan x="1039.2" y="1263.5" font-size="27.8" textLength="10.01" lengthAdjust="spacingAndGlyphs" class="ser">2</tspan><tspan x="1052.1" y="1263.5" font-size="27.8" textLength="10.01" lengthAdjust="spacingAndGlyphs" class="ser">9</tspan><tspan> </tspan><tspan x="1068.72" y="1263.6" font-size="23.3" textLength="23.77" lengthAdjust="spacingAndGlyphs" class="ser">年</tspan><tspan x="1091.32" y="1263.6" font-size="23.3" textLength="23.77" lengthAdjust="spacingAndGlyphs" class="ser">推</tspan><tspan x="1113.5" y="1263.6" font-size="23.3" textLength="23.77" lengthAdjust="spacingAndGlyphs" class="ser">計</tspan><tspan x="1135.91" y="1263.6" font-size="23.3" textLength="23.77" lengthAdjust="spacingAndGlyphs" class="ser">）</tspan><tspan x="1151.78" y="1263.6" font-size="23.3" textLength="23.77" lengthAdjust="spacingAndGlyphs" class="ser">」</tspan><tspan x="1174.76" y="1263.6" font-size="23.3" textLength="23.77" lengthAdjust="spacingAndGlyphs" class="ser">よ</tspan><tspan x="1195.48" y="1263.6" font-size="23.3" textLength="23.77" lengthAdjust="spacingAndGlyphs" class="ser">り</tspan><tspan x="1220.84" y="1263.6" font-size="23.3" textLength="23.77" lengthAdjust="spacingAndGlyphs" class="ser">作</tspan><tspan x="1245.84" y="1263.6" font-size="23.3" textLength="23.77" lengthAdjust="spacingAndGlyphs" class="ser">成</tspan></text>
</svg>
</body></html>
